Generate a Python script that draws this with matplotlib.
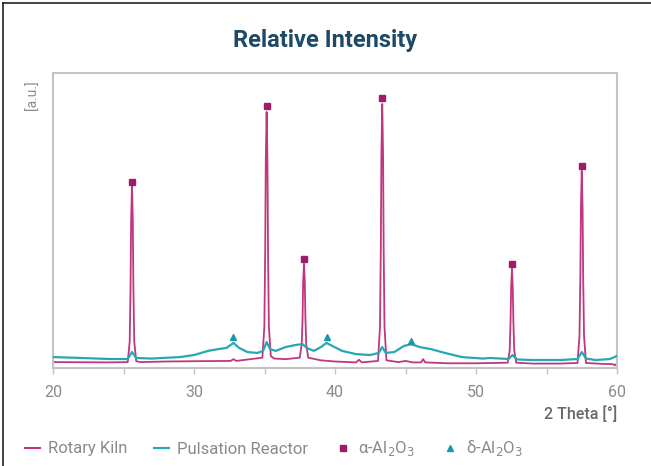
import matplotlib
matplotlib.use("Agg")
import matplotlib.pyplot as plt
from matplotlib.lines import Line2D

plt.rcParams['font.family'] = ['Roboto', 'DejaVu Sans']

# ---- data (intensity in arbitrary units 0-100) ----
kiln_x = [20, 24, 25.3, 25.44, 25.5, 25.54, 25.6, 25.66, 25.7, 25.76, 25.9, 26.2, 28, 30,
          32.6, 32.8, 33.0,
          34.85, 34.99, 35.05, 35.09, 35.15, 35.21, 35.25, 35.31, 35.45, 35.7, 36.5,
          37.5, 37.64, 37.7, 37.74, 37.8, 37.86, 37.9, 37.96, 38.1,
          39, 40, 41.5, 41.7, 41.9,
          43.05, 43.19, 43.25, 43.29, 43.35, 43.41, 43.45, 43.51, 43.65,
          44.5, 45.0, 45.5, 46.1, 46.25, 46.4, 48, 50,
          52.25, 52.39, 52.45, 52.49, 52.55, 52.61, 52.65, 52.71, 52.85,
          54, 56,
          57.2, 57.34, 57.4, 57.44, 57.5, 57.56, 57.6, 57.66, 57.8,
          59, 59.7, 59.85, 60]
kiln_y = [2.0, 1.9, 2.0, 9, 28, 50, 62.0, 50, 28, 9, 2.3, 2.0, 2.2, 2.3,
          2.4, 3.0, 2.4,
          3.5, 14, 40, 70, 86.8, 70, 40, 14, 4, 3.2, 3.0,
          3.5, 8, 17, 29, 35.3, 29, 17, 8, 3.5,
          2.6, 2.2, 1.9, 2.8, 1.9,
          2.4, 14, 41, 72, 89.5, 72, 41, 14, 2.6,
          2.0, 2.4, 1.9, 1.9, 3.0, 1.9, 1.6, 1.6,
          1.8, 6, 16, 27, 33.6, 27, 16, 6, 1.8,
          1.5, 1.5,
          1.7, 11, 31, 54, 66.8, 54, 31, 11, 1.7,
          1.4, 1.3, 0.9, 1.6]

pulse_x = [20, 22, 24, 25.3, 25.6, 25.9, 27, 29, 30, 31, 31.7, 32.3, 32.8, 33.2, 33.8,
           34.5, 34.9, 35.15, 35.4, 35.8, 36.5, 37.2, 37.7, 38.0, 38.5, 39.0, 39.4, 39.8,
           40.5, 41.5, 42.5, 43.1, 43.35, 43.6, 44.2, 44.9, 45.4, 46.0, 46.8, 47.8, 49,
           50.5, 51, 52.3, 52.6, 52.9, 54, 56, 57.2, 57.5, 57.8, 58.5, 59.5, 60]
pulse_y = [3.7, 3.4, 3.05, 3.05, 5.4, 3.4, 3.2, 3.7, 4.4, 5.8, 6.4, 6.8, 8.5, 6.8, 5.4,
           5.1, 5.8, 8.8, 6.4, 5.8, 7.1, 7.8, 8.1, 6.8, 5.8, 7.1, 8.5, 7.5,
           5.8, 4.7, 4.4, 5.1, 7.1, 5.1, 5.4, 7.5, 8.1, 7.1, 6.4, 5.1, 3.7,
           3.2, 3.4, 3.05, 4.4, 2.9, 2.7, 2.7, 3.05, 5.4, 3.2, 2.7, 3.05, 4.1]

alpha_x = [25.6, 35.15, 37.8, 43.35, 52.55, 57.5]
alpha_y = [63.1, 88.8, 36.9, 91.5, 35.3, 68.5]

delta_x = [32.8, 39.4, 45.4]
delta_y = [10.5, 10.5, 9.2]

xticks = [20, 30, 40, 50, 60]
labels = ['Rotary Kiln', 'Pulsation Reactor', r'α-Al$_2$O$_3$', r'δ-Al$_2$O$_3$']

# ---- colours ----
c_kiln = '#c0377f'
c_pulse = '#26a8b4'
c_alpha = '#9e1c68'
c_delta = '#1b98a6'
c_spine = '#c4c4c4'
c_text = '#8a8a8a'

fig = plt.figure(figsize=(6.51, 4.66), dpi=100)
ax = fig.add_axes([53/651, 1-368/466, (617-53)/651, (368-73)/466])

ax.plot(kiln_x, kiln_y, color=c_kiln, lw=1.3, zorder=2)
ax.plot(pulse_x, pulse_y, color=c_pulse, lw=1.6, zorder=3)
ax.plot(alpha_x, alpha_y, ls='none', marker='s', ms=4.5, color=c_alpha, zorder=4)
ax.plot(delta_x, delta_y, ls='none', marker='^', ms=5, color=c_delta, zorder=4)

ax.set_xlim(20, 60)
ax.set_ylim(0, 100)
ax.set_xticks(xticks)
ax.set_xticks([25, 35, 45, 55], minor=True)
ax.set_yticks([])
ax.tick_params(axis='x', which='both', direction='out', length=4, width=1,
               color=c_spine, labelcolor=c_text, labelsize=11.5, pad=8)
for s in ax.spines.values():
    s.set_color(c_spine)
    s.set_linewidth(1.5)

ax.text(1.0, -0.155, '2 Theta [°]', transform=ax.transAxes, ha='right', va='center',
        fontsize=11.5, color='#6a6a6a', fontweight='medium')

fig.text(0.5, 1-40/466, 'Relative Intensity', ha='center', va='center',
         fontsize=17, fontweight='bold', color='#1e4a68')
fig.text(33/651, 1-95/466, '[a.u.]', rotation=90, ha='center', va='center',
         fontsize=10, color=c_text)

handles = [Line2D([], [], color=c_kiln, lw=1.5),
           Line2D([], [], color=c_pulse, lw=1.5),
           Line2D([], [], ls='none', marker='s', ms=4.5, color=c_alpha),
           Line2D([], [], ls='none', marker='^', ms=5, color=c_delta)]
fig.legend(handles, labels, loc='center left', bbox_to_anchor=(0.015, 1-448/466), ncol=4,
           frameon=False, handlelength=0.9, handletextpad=0.5, columnspacing=1.6,
           labelcolor=c_text, fontsize=12)

# outer frame lines (top and left)
fig.add_artist(Line2D([3/651, 1], [1-3/466, 1-3/466], transform=fig.transFigure, color='#222222', lw=1.2))
fig.add_artist(Line2D([3/651, 3/651], [0, 1-3/466], transform=fig.transFigure, color='#222222', lw=1.2))

fig.savefig('out.png', dpi=100)
